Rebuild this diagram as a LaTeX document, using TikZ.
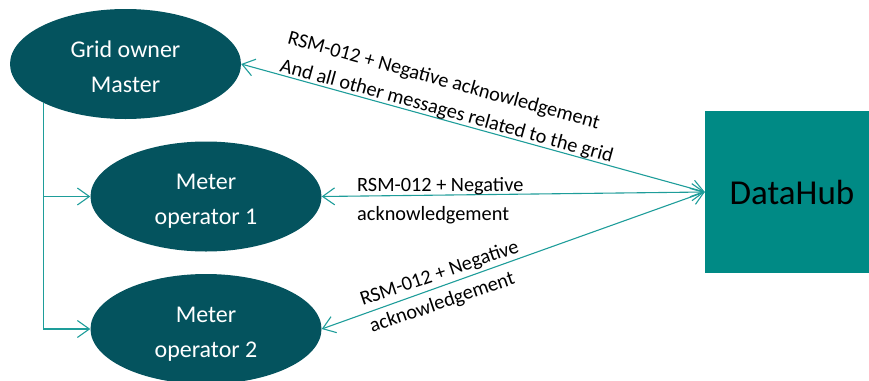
\documentclass[tikz,border=0pt]{standalone}
\usepackage{fontspec}
\setmainfont{Carlito}
\usetikzlibrary{shapes.geometric,arrows.meta}
\definecolor{ellfill}{HTML}{04535E}
\definecolor{hubfill}{HTML}{008A85}
\definecolor{linecol}{HTML}{1E9D9A}
\newcommand\topstrut{\rule{0pt}{29pt}}
\newcommand\botstrut{\rule[-8pt]{0pt}{8pt}}
\tikzset{
  actor/.style={ellipse, fill=ellfill, draw=none, minimum width=231pt, minimum height=110pt, inner sep=0pt, text=white, align=center, font=\fontsize{24}{35}\selectfont},
  hub/.style={rectangle, fill=hubfill, draw=none, minimum width=174pt, minimum height=162pt, inner sep=0pt, text=black, font=\fontsize{35}{40}\selectfont},
  conn/.style={draw=linecol, line width=1.1pt},
  barb/.tip={Straight Barb[length=12pt,width=17pt,line width=1.1pt]},
  msg/.style={align=left, inner sep=0pt, text=black, font=\fontsize{20.3}{28.5}\selectfont}
}
\begin{document}
\begin{tikzpicture}[x=1pt,y=-1pt]
\useasboundingbox (0,0) rectangle (869,380);
\node[actor] (go) at (125.5,64) {\topstrut Grid owner\\Master\botstrut};
\node[actor] (m1) at (206,196.5) {\topstrut Meter\\operator 1\botstrut};
\node[actor] (m2) at (206,329) {\topstrut Meter\\operator 2\botstrut};
\node[hub] (dh) at (792,192) {DataHub};
\draw[conn, barb-barb] (go.east) -- (dh.west);
\draw[conn, barb-barb] (m1.east) -- (dh.west);
\draw[conn, barb-barb] (m2.east) -- (dh.west);
\draw[conn, -barb] (go.south west) |- (m1.west);
\draw[conn, -barb] (go.south west) |- (m2.west);
\node[msg, rotate=-15.4, anchor=base west] (l1) at (279,71) {RSM-012 + Negative acknowledgement\\And all other messages related to the grid};
\node[msg, anchor=base west] (l2) at (357,220) {RSM-012 + Negative\\acknowledgement};
\node[msg, rotate=19, anchor=base west] (l3) at (372,333) {RSM-012 + Negative\\acknowledgement};
\end{tikzpicture}
\end{document}
